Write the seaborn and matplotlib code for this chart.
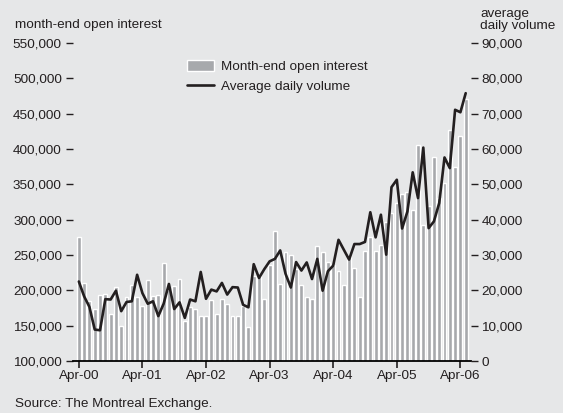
import numpy as np
import pandas as pd
import matplotlib.pyplot as plt
from matplotlib.patches import Patch
from matplotlib.lines import Line2D
from matplotlib.ticker import FuncFormatter
import seaborn as sns

# monthly data, Apr-00 .. May-06
months = pd.date_range('2000-04-01', periods=74, freq='MS').strftime('%b-%y')

open_interest = [
    276000, 211000, 185000, 173000, 194000, 195000, 166000, 205000, 149000, 191000, 207000, 190000,
    178000, 215000, 192000, 194000, 238000, 200000, 206000, 216000, 156000, 177000, 174000, 163000,
    163000, 186000, 167000, 188000, 180000, 163000, 163000, 178000, 148000, 220000, 220000, 188000,
    236000, 284000, 209000, 254000, 250000, 230000, 208000, 191000, 188000, 263000, 254000, 240000,
    236000, 228000, 208000, 248000, 232000, 190000, 256000, 276000, 255000, 264000, 297000, 310000,
    324000, 337000, 339000, 313000, 406000, 292000, 320000, 388000, 331000, 352000, 427000, 374000,
    419000, 471000,
]

daily_volume = [
    22500, 18300, 15300, 8900, 8700, 17500, 17400, 19900, 14100, 16700, 16900, 24400,
    19200, 16200, 16900, 12700, 16200, 21800, 14700, 16600, 12200, 17400, 16900, 25200,
    17600, 20200, 19700, 22100, 18800, 20900, 20800, 15900, 15200, 27400, 23500, 26000,
    28200, 28900, 31300, 24700, 20800, 28000, 25600, 27900, 23200, 28900, 19900, 25400,
    27000, 34300, 31500, 28700, 33100, 33100, 33700, 42100, 35000, 41400, 30100, 49200,
    51300, 37500, 42300, 53400, 46100, 60400, 37600, 39500, 44700, 57600, 54600, 71100,
    70400, 75800,
]

tick_labels = ['Apr-00', 'Apr-01', 'Apr-02', 'Apr-03', 'Apr-04', 'Apr-05', 'Apr-06']

bg = '#e6e7e8'
bar_col = '#a7a9ac'
line_col = '#231f20'
txt = '#231f20'
fs = 9.7

sns.set_style('white')
plt.rcParams['font.family'] = ['Liberation Sans', 'DejaVu Sans']
plt.rcParams['text.color'] = txt

df = pd.DataFrame({'month': months, 'oi': open_interest, 'vol': daily_volume})

fig = plt.figure(figsize=(5.63, 4.13), dpi=100, facecolor=bg)
ax = fig.add_axes([73 / 563, 52 / 413, 398 / 563, 318 / 413])
ax.set_facecolor(bg)

sns.barplot(data=df, x='month', y='oi', color=bar_col, saturation=1, width=0.74, ax=ax)
ax2 = ax.twinx()
sns.lineplot(x=np.arange(len(df)), y=df['vol'], color=line_col, lw=1.9, ax=ax2)

ax.set_ylim(100000, 550000)
ax2.set_ylim(0, 90000)
ax.set_xlim(-1.1, 74.0)

for a in (ax, ax2):
    for s in a.spines.values():
        s.set_visible(False)
    a.set_xlabel('')
    a.set_ylabel('')
ax.spines['bottom'].set_visible(True)
ax.spines['bottom'].set_color('black')
ax.spines['bottom'].set_linewidth(1.3)

ax.set_yticks(np.arange(100000, 550001, 50000))
ax2.set_yticks(np.arange(0, 90001, 10000))
fmt = FuncFormatter(lambda v, p: f'{v:,.0f}')
ax.yaxis.set_major_formatter(fmt)
ax2.yaxis.set_major_formatter(fmt)

ax.set_xticks([list(months).index(t) for t in tick_labels], tick_labels)

ax.tick_params(axis='y', left=True, length=5, width=1, pad=3, labelsize=fs, colors=txt)
ax2.tick_params(axis='y', right=True, length=5, width=1, pad=2.5, labelsize=fs, colors=txt)
ax.tick_params(axis='x', bottom=True, length=5, width=1.2, pad=1.5, labelsize=fs, colors=txt)

handles = [Patch(facecolor=bar_col, label='Month-end open interest'),
           Line2D([], [], color=line_col, lw=1.9, label='Average daily volume')]
ax2.legend(handles=handles, loc='upper left', bbox_to_anchor=(0.274, 0.965), frameon=False,
           fontsize=fs, handlelength=1.95, handleheight=0.9, labelspacing=0.55, handletextpad=0.55,
           borderaxespad=0)

fig.text(15 / 563, 1 - 25 / 413, 'month-end open interest', va='center', fontsize=fs)
fig.text(480 / 563, 1 - 19.5 / 413, 'average\ndaily volume', va='center', fontsize=fs, linespacing=1.0)
fig.text(15 / 563, 1 - 404 / 413, 'Source: The Montreal Exchange.', va='center', fontsize=fs)

fig.savefig('out.png', dpi=100, facecolor=bg)
